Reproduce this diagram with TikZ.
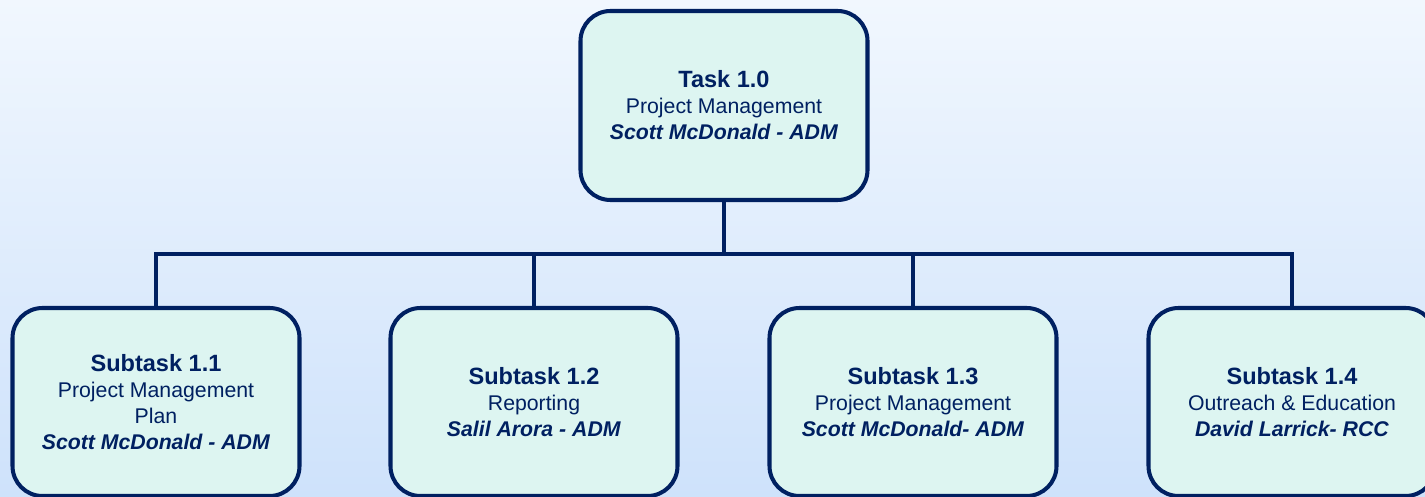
\documentclass[tikz,border=0pt]{standalone}
\usepackage{fontspec}
\setmainfont{Liberation Sans}
\definecolor{navy}{rgb}{0.0,0.125,0.38}
\definecolor{mint}{rgb}{0.867,0.961,0.945}
\definecolor{bgtop}{rgb}{0.945,0.969,0.996}
\definecolor{bgbot}{rgb}{0.808,0.886,0.984}
\usetikzlibrary{positioning}
\tikzset{
    taskbox/.style={
           rectangle,
           rounded corners=0.6cm,
           draw=navy, line width=2.3pt,
           fill=mint,
           text=navy,
           minimum width=5.74cm,
           minimum height=3.76cm,
           align=center,
           font=\fontsize{12.1}{14.8}\selectfont,
           },
    link/.style={draw=navy, line width=2.3pt, line join=miter},
}
\newcommand{\taskhead}[1]{{\fontsize{13.4}{14.8}\selectfont\bfseries #1}}
\newcommand{\taskowner}[1]{\textbf{\textit{#1}}}

\begin{document}
\begin{tikzpicture}
      \clip (0,0) rectangle (28.5,-9.94);
      \shade[top color=bgtop, bottom color=bgbot] (0,0) rectangle (28.5,-9.94);
      \node[taskbox, minimum height=3.78cm] (T)  at (14.48, -2.11) {\taskhead{Task 1.0}\\Project Management\\\taskowner{Scott McDonald - ADM}};
      \node[taskbox] (S1) at ( 3.12, -8.04) {\taskhead{Subtask 1.1}\\Project Management\\Plan\\\taskowner{Scott McDonald - ADM}};
      \node[taskbox] (S2) at (10.68, -8.04) {\taskhead{Subtask 1.2}\\Reporting\\\taskowner{Salil Arora - ADM}};
      \node[taskbox] (S3) at (18.26, -8.04) {\taskhead{Subtask 1.3}\\Project Management\\\taskowner{Scott McDonald- ADM}};
      \node[taskbox] (S4) at (25.84, -8.04) {\taskhead{Subtask 1.4}\\Outreach \& Education\\\taskowner{David Larrick- RCC}};
      \coordinate (bus) at (14.48, -5.08);
      % tree lines
      \draw[link] (T.south) -- (bus);
      \draw[link] (S1.north) -- (S1.north |- bus) -- (S4.north |- bus) -- (S4.north);
      \foreach \sub in {S2,S3}
        \draw[link] (\sub.north) -- (\sub.north |- bus);
\end{tikzpicture}
\end{document}
